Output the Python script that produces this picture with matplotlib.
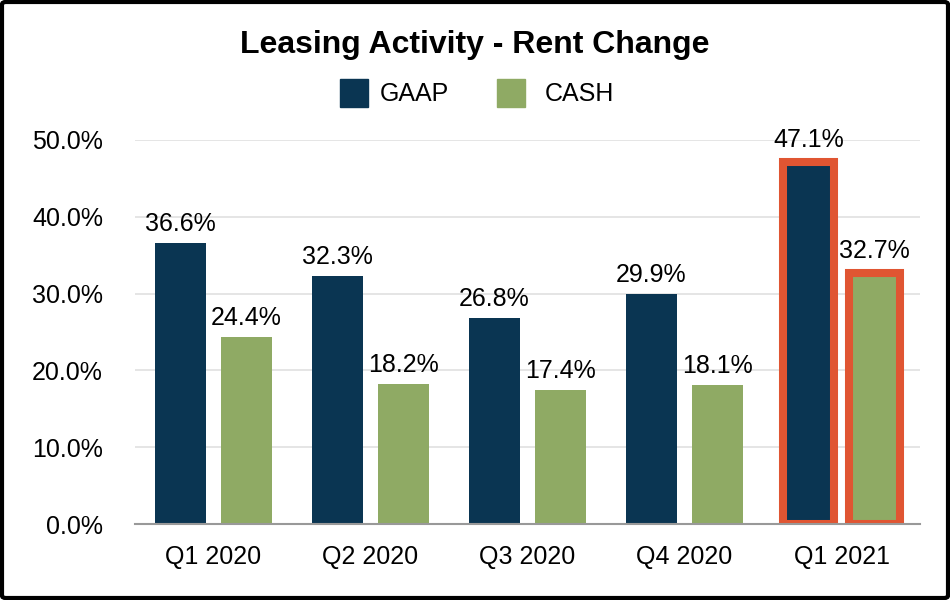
import matplotlib.pyplot as plt
import numpy as np
from matplotlib.patches import FancyBboxPatch

plt.rcParams['font.family'] = ['Liberation Sans', 'DejaVu Sans']

quarters = ['Q1 2020', 'Q2 2020', 'Q3 2020', 'Q4 2020', 'Q1 2021']
gaap = [36.6, 32.3, 26.8, 29.9, 47.1]
cash = [24.4, 18.2, 17.4, 18.1, 32.7]
highlight = [False, False, False, False, True]

navy = '#0a3552'
green = '#8faa64'
orange = '#e05532'

fig = plt.figure(figsize=[9.5, 6], dpi=100)
ax = fig.add_axes([135/950, 76/600, 785/950, 384/600])

x = np.arange(len(quarters))
w = 0.32
off = 0.21

for i in range(len(quarters)):
    for val, xx, c in [(gaap[i], x[i] - off, navy), (cash[i], x[i] + off, green)]:
        if highlight[i]:
            ax.bar(xx, val, width=w, color=c, edgecolor=orange, linewidth=5.8, zorder=3)
            ax.text(xx, val + 1.3, '%.1f%%' % val, ha='center', va='bottom', fontsize=18, clip_on=False)
        else:
            ax.bar(xx, val, width=w, color=c, zorder=3)
            ax.text(xx, val + 0.9, '%.1f%%' % val, ha='center', va='bottom', fontsize=18)

ax.set_xlim(-0.5, 4.5)
ax.set_ylim(0, 50)
ax.set_yticks(range(0, 51, 10))
ax.set_yticklabels(['%.1f%%' % v for v in range(0, 51, 10)], fontsize=18)
ax.set_xticks(x)
ax.set_xticklabels(quarters, fontsize=18)
ax.tick_params(axis='both', length=0)
ax.tick_params(axis='y', pad=23)
ax.tick_params(axis='x', pad=15)
ax.grid(axis='y', color='#e0e0e0', linewidth=1.2, zorder=0)
for s in ['top', 'right', 'left']:
    ax.spines[s].set_visible(False)
ax.spines['bottom'].set_color('#999999')
ax.spines['bottom'].set_linewidth(1.5)
ax.spines['bottom'].set_zorder(4)

fig.text(0.5, 1 - 45/600, 'Leasing Activity - Rent Change', ha='center', va='center',
         fontsize=23, fontweight='bold')

# legend
fig.patches.append(plt.Rectangle((340/950, 1 - 107/600), 28/950, 28/600, color=navy, transform=fig.transFigure))
fig.text(380/950, 1 - 94/600, 'GAAP', ha='left', va='center', fontsize=18)
fig.patches.append(plt.Rectangle((497/950, 1 - 107/600), 28/950, 28/600, color=green, transform=fig.transFigure))
fig.text(545/950, 1 - 94/600, 'CASH', ha='left', va='center', fontsize=18)

border = FancyBboxPatch((2/950, 2/600), 946/950, 596/600, boxstyle='round,pad=0,rounding_size=0.004',
                        fill=False, edgecolor='black', linewidth=3, transform=fig.transFigure)
fig.patches.append(border)

plt.savefig('out.png')
